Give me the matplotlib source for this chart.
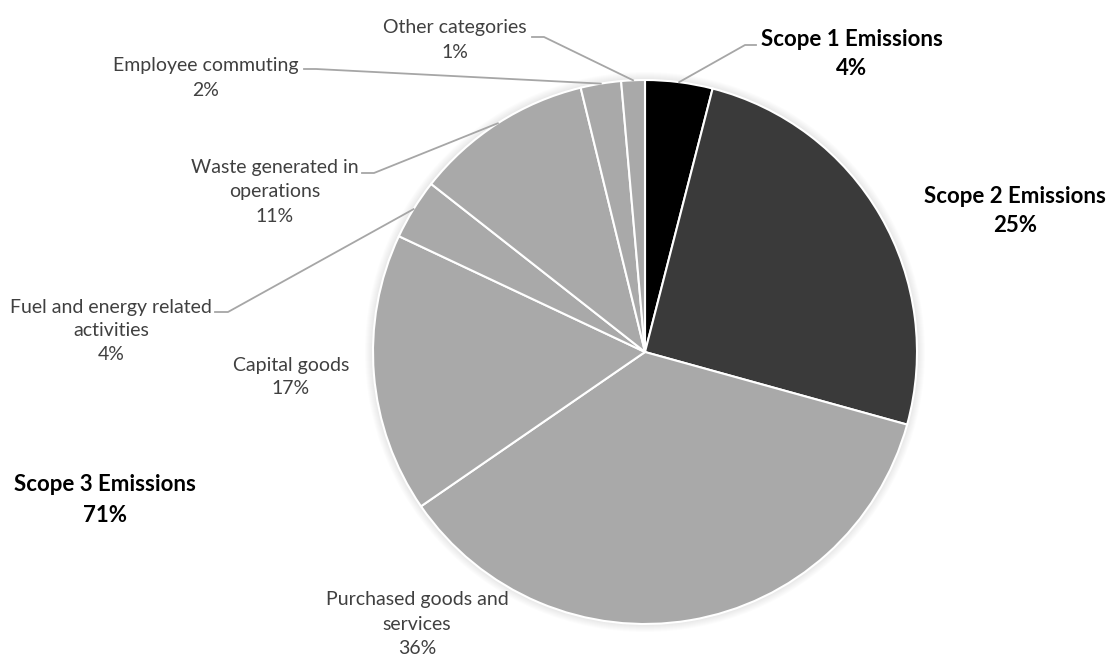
import numpy as np
import matplotlib
matplotlib.use("Agg")
import matplotlib.pyplot as plt
from matplotlib.patches import Circle

# slices clockwise from 12 o'clock
categories = [
    "Scope 1 Emissions",
    "Scope 2 Emissions",
    "Purchased goods and\nservices",
    "Capital goods",
    "Fuel and energy related\nactivities",
    "Waste generated in\noperations",
    "Employee commuting",
    "Other categories",
]
shares = [4.0, 25.3, 36.1, 16.6, 3.6, 10.6, 2.4, 1.4]
slice_colors = ["#000000", "#3a3a3a", "#a9a9a9", "#a9a9a9", "#a9a9a9", "#a9a9a9", "#a9a9a9", "#a9a9a9"]
scope3_total = sum(shares[2:])

W, H = 1109, 657
CX, CY, R = 645, 352, 272


def px(x, y):
    # pixel position from the top-left -> data coords
    return x, H - y


# label centre (px), and leader start / elbow points (px) or None
label_pos = [(852, 54), (1015, 211), (417, 624), (291, 377), (111, 331), (275, 192), (206, 78), (455, 40)]
leaders = [
    [(756, 45), (745, 45)],
    None,
    None,
    None,
    [(215, 312), (228, 312)],
    [(362, 173), (374, 173)],
    [(304, 69), (316, 69)],
    [(532, 37), (544, 37)],
]
bold = [True, True, False, False, False, False, False, False]

fig = plt.figure(figsize=(W / 100, H / 100), dpi=100)
ax = fig.add_axes([0, 0, 1, 1])
ax.set_xlim(0, W)
ax.set_ylim(0, H)
ax.set_aspect("equal")
ax.axis("off")

# soft shadow
for i in range(8, 0, -1):
    ax.add_patch(Circle(px(CX, CY), R + i, color="#000000", alpha=0.012, lw=0, zorder=0))

wedges, _ = ax.pie(
    shares,
    colors=slice_colors,
    startangle=90,
    counterclock=False,
    center=px(CX, CY),
    radius=R,
    wedgeprops=dict(edgecolor="white", linewidth=1.5),
    frame=True,
)
ax.set_xlim(0, W)
ax.set_ylim(0, H)
ax.axis("off")

for i, (name, val) in enumerate(zip(categories, shares)):
    lx, ly = label_pos[i]
    kw = dict(fontsize=14, color="#404040", family="Lato", linespacing=1.5)
    if bold[i]:
        kw.update(fontsize=16, color="#000000", fontweight="bold", linespacing=1.5)
    ax.text(*px(lx, ly), f"{name}\n{val:.0f}%", ha="center", va="center", **kw)
    if leaders[i] is not None:
        w = wedges[i]
        mid = np.deg2rad((w.theta1 + w.theta2) / 2)
        ex = w.center[0] + R * np.cos(mid)
        ey = w.center[1] + R * np.sin(mid)
        (x0, y0), (x1, y1) = leaders[i]
        pts = [px(x0, y0), px(x1, y1), (ex, ey)]
        ax.plot([p[0] for p in pts], [p[1] for p in pts], color="#a6a6a6", lw=1.3, zorder=3)

ax.text(*px(105, 500), f"Scope 3 Emissions\n{scope3_total:.0f}%", ha="center", va="center",
        fontsize=16, fontweight="bold", color="#000000", family="Lato", linespacing=1.55)

fig.savefig("out.png", dpi=100)
